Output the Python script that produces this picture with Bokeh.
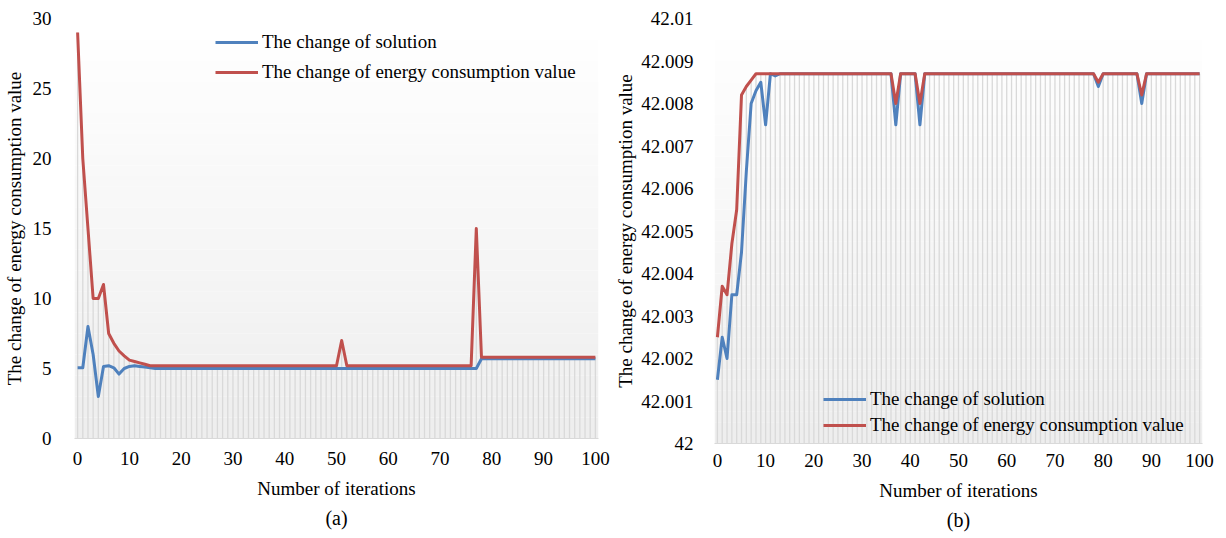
from bokeh.plotting import figure
from bokeh.layouts import row
from bokeh.models import (Range1d, FixedTicker, Legend, LegendItem, Title,
                          CustomJSTickFormatter)
from bokeh.embed import file_html
from bokeh.resources import INLINE

# ---------------- data ----------------
iters = list(range(0, 101))

# (a)
sol_a = ([5.05, 5.05, 8.0, 6.0, 3.0, 5.15, 5.2, 5.05, 4.6, 5.0,
          5.15, 5.2, 5.15, 5.1, 5.05] + [5.0] * 63 + [5.7] * 23)
energy_a = ([29.0, 20.0, 15.0, 10.0, 10.0, 11.0, 7.5, 6.8, 6.25, 5.9,
             5.6, 5.5, 5.4, 5.3] + [5.2] * 37 + [7.0] + [5.2] * 25 + [15.0] + [5.8] * 23)

# (b)
sol_b = [42.0015, 42.0025, 42.0020, 42.0035, 42.0035, 42.0045, 42.0064, 42.0080,
         42.0083, 42.0085, 42.0075, 42.0087, 42.00865] + [42.0087] * 88
energy_b = [42.0025, 42.0037, 42.0035, 42.0047, 42.0055, 42.0082, 42.0084,
            42.00855] + [42.0087] * 93
for i, v in [(37, 42.0075), (42, 42.0075), (79, 42.0084), (88, 42.0080)]:
    sol_b[i] = v
for i, v in [(37, 42.0080), (42, 42.0080), (79, 42.0085), (88, 42.0082)]:
    energy_b[i] = v

ticks_a_y = [0, 5, 10, 15, 20, 25, 30]
ticks_x = [0, 10, 20, 30, 40, 50, 60, 70, 80, 90, 100]
ticks_b_y = [42.0, 42.001, 42.002, 42.003, 42.004, 42.005, 42.006, 42.007,
             42.008, 42.009, 42.01]

labels = ["The change of solution", "The change of energy consumption value"]
BLUE = "#4f81bd"
RED = "#c0504d"
FONT = "Liberation Serif"


def gradient(p, y0, y1, x0, x1, n=40):
    h = (y1 - y0) / n
    bottoms = [y0 + i * h for i in range(n)]
    tops = [b + h for b in bottoms]
    cols = []
    for i in range(n):
        t = i / (n - 1)
        c = int(round(0xee + (0xff - 0xee) * t))
        cols.append("#%02x%02x%02x" % (c, c, c))
    p.quad(left=[x0] * n, right=[x1] * n, bottom=bottoms, top=tops,
           fill_color=cols, line_color=None)


def make(xs, s1, s2, yr, yticks, mb_left, fw, fh, mb_top, mb_bottom, mb_right,
         legend_loc, legend_spacing, cap, ystand, ylab_stand, xstand, xlab_stand,
         cap_stand, fmt=None):
    p = figure(width=mb_left + fw + mb_right, height=mb_top + fh + mb_bottom,
               output_backend="svg", toolbar_location=None,
               x_range=Range1d(-0.6, 100.6), y_range=Range1d(*yr),
               min_border_left=mb_left, min_border_right=mb_right,
               min_border_top=mb_top, min_border_bottom=mb_bottom)
    p.frame_width = fw
    p.frame_height = fh
    p.outline_line_color = None
    p.xgrid.visible = False
    p.ygrid.visible = False
    gradient(p, yr[0], yr[1], -0.6, 100.6)
    tops = [max(a, b) for a, b in zip(s1, s2)]
    p.segment(x0=xs, y0=[yr[0]] * len(xs), x1=xs, y1=tops,
              line_color="#d9d9d9", line_width=1.3)
    r1 = p.line(xs, s1, line_color=BLUE, line_width=3, line_join="round")
    r2 = p.line(xs, s2, line_color=RED, line_width=3, line_join="round")

    for ax in (p.xaxis[0], p.yaxis[0]):
        ax.major_tick_line_color = None
        ax.minor_tick_line_color = None
        ax.major_label_text_font = FONT
        ax.major_label_text_font_size = "19px"
        ax.major_label_text_color = "#000000"
        ax.axis_label_text_font = FONT
        ax.axis_label_text_font_size = "19px"
        ax.axis_label_text_font_style = "normal"
        ax.axis_label_text_color = "#000000"
    p.xaxis.ticker = FixedTicker(ticks=ticks_x)
    p.yaxis.ticker = FixedTicker(ticks=yticks)
    p.xaxis.axis_line_color = "#d9d9d9"
    p.yaxis.axis_line_color = None
    p.xaxis.axis_label = "Number of iterations"
    p.yaxis.axis_label = "The change of energy consumption value"
    p.xaxis.major_label_standoff = xstand
    p.xaxis.axis_label_standoff = xlab_stand
    p.yaxis.major_label_standoff = ystand
    p.yaxis.axis_label_standoff = ylab_stand
    if fmt is not None:
        p.yaxis.formatter = fmt

    leg = Legend(items=[LegendItem(label=labels[0], renderers=[r1]),
                        LegendItem(label=labels[1], renderers=[r2])],
                 location=legend_loc, glyph_width=43, glyph_height=20,
                 label_height=20, label_standoff=4, spacing=legend_spacing,
                 padding=0, margin=0, border_line_color=None,
                 background_fill_alpha=0, label_text_font=FONT,
                 label_text_font_size="19px", label_text_color="#000000")
    p.add_layout(leg)
    p.add_layout(Title(text=cap, align="center", text_font=FONT,
                       text_font_size="20px", text_font_style="normal",
                       text_color="#000000", standoff=cap_stand), "below")
    return p


fmt_b = CustomJSTickFormatter(code="return String(parseFloat(tick.toFixed(3)));")

pa = make(iters, sol_a, energy_a, (0, 30), ticks_a_y, 66, 524, 420, 18, 92, 14,
          (141, 355), 8, "(a)", 17, 5, 7, 10, 6)
pb = make(iters, sol_b, energy_b, (42.0, 42.01), ticks_b_y, 101, 488, 425, 17, 88, 15,
          (109, 7), 4, "(b)", 15, 2, 4, 10, 7, fmt_b)

layout = row(pa, pb)
open("out.html", "w").write(file_html(layout, INLINE))
